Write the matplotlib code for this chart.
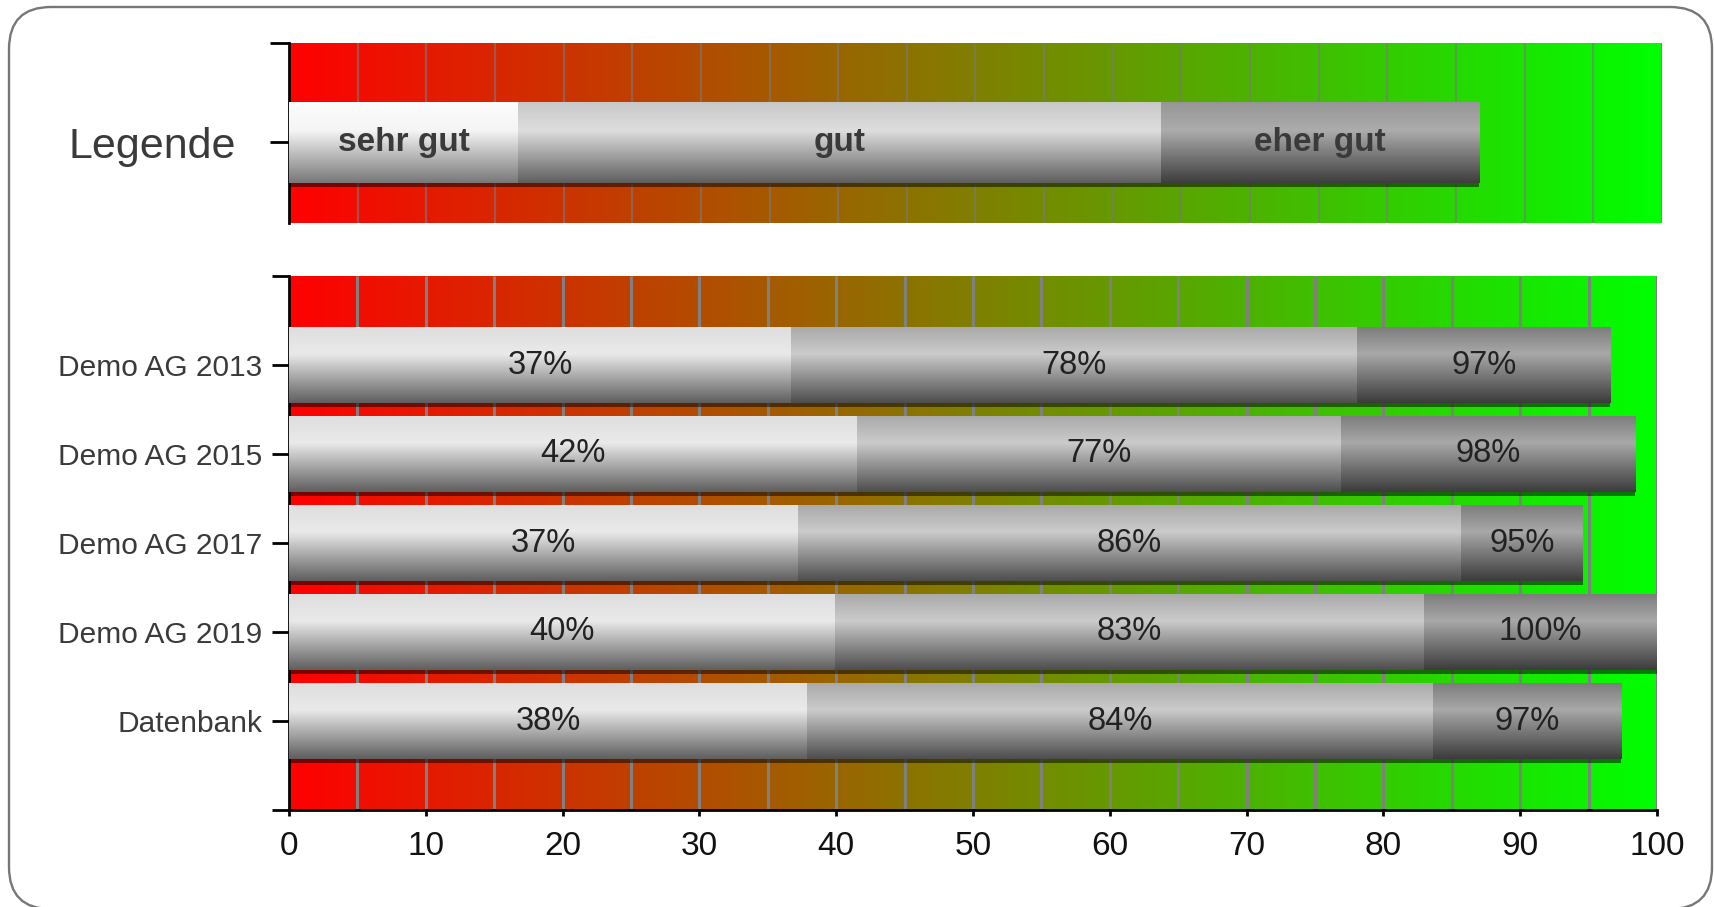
import numpy as np
import matplotlib.pyplot as plt
from matplotlib.patches import FancyBboxPatch, Rectangle
from matplotlib.transforms import IdentityTransform

plt.rcParams['font.family'] = ['Liberation Sans', 'DejaVu Sans']

# cumulative shares (%) per company
categories = ["Demo AG 2013", "Demo AG 2015", "Demo AG 2017", "Demo AG 2019", "Datenbank"]
sehr_gut = [36.7, 41.5, 37.2, 39.9, 37.9]
gut = [78.1, 76.9, 85.7, 83.0, 83.6]
eher_gut = [96.6, 98.4, 94.6, 100.0, 97.4]

# legend bar (cumulative ends of the three bands)
legend_labels = ["sehr gut", "gut", "eher gut"]
legend_ends = [16.7, 63.5, 86.7]

x_ticks = list(range(0, 101, 10))

# gray gradients per band: (top, highlight, bottom) grey levels
bar_shades = [(222, 234, 95), (170, 203, 78), (126, 168, 60)]
legend_shades = [(252, 245, 120), (200, 222, 95), (150, 172, 62)]


def gray_grad(top, peak, bottom, n=80):
    t = np.linspace(0, 1, n)
    v = np.where(t < 0.35, top + (peak - top) * t / 0.35,
                 peak + (bottom - peak) * (t - 0.35) / 0.65)
    return np.repeat(v[:, None] / 255.0, 3, axis=1)[:, None, :]


def red_green(n=400):
    t = np.linspace(0, 1, n)
    img = np.zeros((1, n, 3))
    img[0, :, 0] = 1 - t
    img[0, :, 1] = t
    return img


def draw_bar(ax, y, ends, labels, shades, h, sy, fs, weight, tcolor):
    # drop shadow below the bar
    ax.add_patch(Rectangle((0, y - h / 2 + sy), ends[-1], h, color='black',
                           alpha=0.5, lw=0, zorder=2))
    start = 0
    for end, lab, sh in zip(ends, labels, shades):
        ax.imshow(gray_grad(*sh), extent=(start, end, y + h / 2, y - h / 2),
                  aspect='auto', interpolation='bilinear', zorder=3)
        ax.text((start + end) / 2, y, lab, ha='center', va='center',
                fontsize=fs, color=tcolor, fontweight=weight, zorder=4)
        start = end


fig = plt.figure(figsize=(17.15, 9.07), dpi=100)

# ---- main chart
ax = fig.add_axes([289 / 1715, 97 / 907, 1368 / 1715, 534 / 907])
ax.imshow(red_green(), extent=(0, 100, 5, -1), aspect='auto',
          interpolation='bilinear', zorder=0)
ax.vlines(np.arange(5, 101, 5), -1, 5, colors='#808080', lw=2.2, zorder=1)

for i, cat in enumerate(categories):
    ends = [sehr_gut[i], gut[i], eher_gut[i]]
    labs = [f"{v:.0f}%" for v in ends]
    draw_bar(ax, i, ends, labs, bar_shades, 0.85, 0.045, 23.5, 'normal', '#222222')

ax.set_xlim(0, 100)
ax.set_ylim(5, -1)
ax.set_xticks(x_ticks)
ax.set_yticks([-1] + list(range(len(categories))) + [len(categories)])
ax.set_yticklabels([''] + categories + [''])
ax.tick_params(axis='y', length=12.5, width=2, pad=7, labelsize=21.5,
               labelcolor='#3a3a3a')
ax.tick_params(axis='x', length=4.3, width=2, pad=11, labelsize=24,
               labelcolor='#111111')
for s in ['top', 'right']:
    ax.spines[s].set_visible(False)
for s in ['left', 'bottom']:
    ax.spines[s].set_linewidth(2)

# ---- legend strip
lax = fig.add_axes([289 / 1715, 684 / 907, 1373 / 1715, 180 / 907])
lax.imshow(red_green(), extent=(0, 100, 0.797, -0.985), aspect='auto',
           interpolation='bilinear', zorder=0)
lax.vlines(np.arange(5, 101, 5), -0.985, 0.797, colors='#7a7a7a', lw=1.6,
           alpha=0.6, zorder=1)
draw_bar(lax, 0, legend_ends, legend_labels, legend_shades, 0.8, 0.04,
         24, 'bold', '#3a3a3a')
lax.set_xlim(0, 100)
lax.set_ylim(0.797, -0.985)
lax.set_xticks([])
lax.set_yticks([-0.985, 0])
lax.set_yticklabels(['', 'Legende'])
lax.tick_params(axis='y', length=14, width=2, pad=24, labelsize=31,
                labelcolor='#3a3a3a')
for s in ['top', 'right', 'bottom']:
    lax.spines[s].set_visible(False)
lax.spines['left'].set_linewidth(2)

# ---- rounded outer frame
frame = FancyBboxPatch((9, -2), 1703, 902, boxstyle='round,pad=0,rounding_size=42',
                       transform=IdentityTransform(), fill=False,
                       edgecolor='#777777', lw=1.7)
fig.add_artist(frame)

fig.savefig('out.png', dpi=100)
